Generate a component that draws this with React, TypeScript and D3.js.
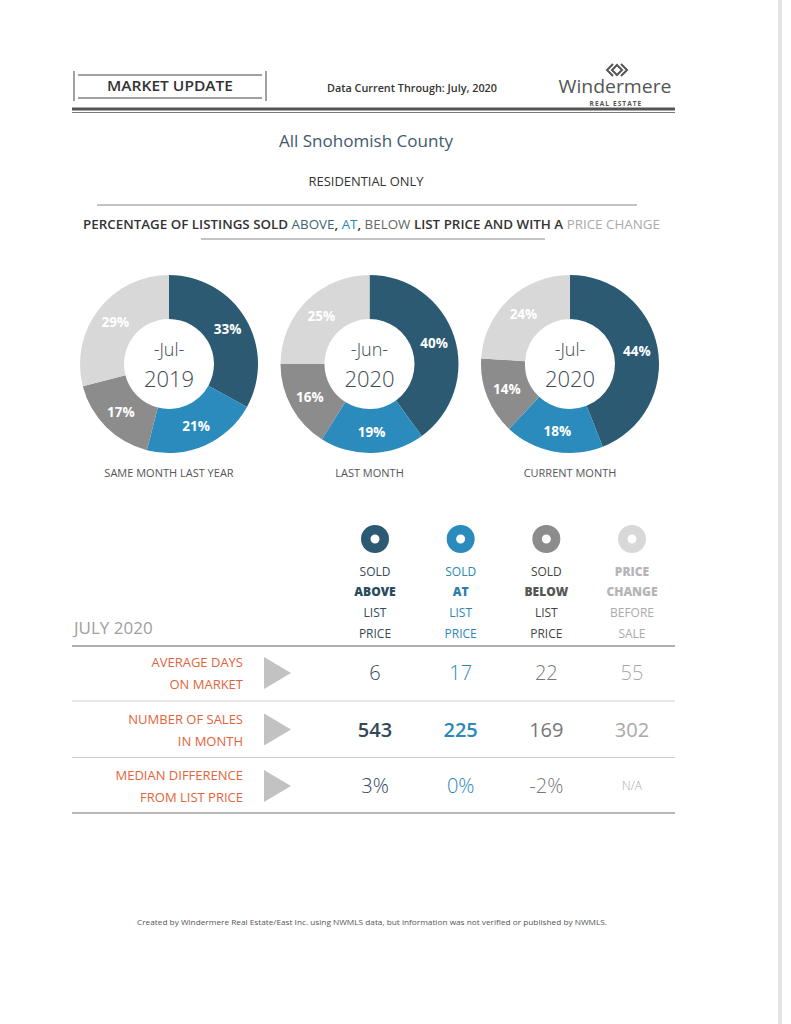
import React from "react";
import * as d3 from "d3";

// ---------- data ----------
const categories = ["Sold Above List Price", "Sold At List Price", "Sold Below List Price", "Price Change Before Sale"];
const donutMonths = ["-Jul-", "-Jun-", "-Jul-"];
const donutYears = ["2019", "2020", "2020"];
const donutCaptions = ["SAME MONTH LAST YEAR", "LAST MONTH", "CURRENT MONTH"];
const pctSameMonthLastYear = [33, 21, 17, 29];
const pctLastMonth = [40, 19, 16, 25];
const pctCurrentMonth = [44, 18, 14, 24];
const columnHeaders = [
  ["SOLD", "ABOVE", "LIST", "PRICE"],
  ["SOLD", "AT", "LIST", "PRICE"],
  ["SOLD", "BELOW", "LIST", "PRICE"],
  ["PRICE", "CHANGE", "BEFORE", "SALE"],
];
const rowLabels = [
  ["AVERAGE DAYS", "ON MARKET"],
  ["NUMBER OF SALES", "IN MONTH"],
  ["MEDIAN DIFFERENCE", "FROM LIST PRICE"],
];
const avgDaysOnMarket = [6, 17, 22, 55];
const numberOfSales = [543, 225, 169, 302];
const medianDifference = ["3%", "0%", "-2%", "N/A"];

// ---------- styles ----------
const FONT = "'Open Sans', 'DejaVu Sans', sans-serif";
const sliceColors = ["#2c5a72", "#2b8bbd", "#8c8c8c", "#d8d8d8"];
const valueColors = ["#34495a", "#2c88b6", "#777777", "#a9a9a9"];
const orange = "#e2643c";

const donutSets = [pctSameMonthLastYear, pctLastMonth, pctCurrentMonth];

export default function App() {
  const W = 791, H = 1024;

  // donut layout
  const donutX = d3.scalePoint<number>().domain([0, 1, 2]).range([169, 570]);
  const cy = 364;
  const outerR = 89, innerR = 45;
  const pie = d3.pie<number>().sort(null).value((d) => d);
  const arc = d3.arc<d3.PieArcDatum<number>>().innerRadius(innerR).outerRadius(outerR);
  const labelArc = d3.arc<d3.PieArcDatum<number>>().innerRadius(68).outerRadius(68);

  // table layout
  const colX = d3.scalePoint<number>().domain([0, 1, 2, 3]).range([375, 632]);
  const rowY = d3.scalePoint<number>().domain([0, 1, 2]).range([673, 786]);
  const iconArc = d3.arc<d3.PieArcDatum<number>>().innerRadius(4.5).outerRadius(14);
  const iconPie = d3.pie<number>().sort(null)([1])[0];

  const rowValues: (string | number)[][] = [avgDaysOnMarket, numberOfSales, medianDifference];

  const headerColors = [
    ["#34495a", "#2a4b5e", "#34495a", "#34495a"],
    ["#2c88b6", "#2a7eaa", "#2c88b6", "#2c88b6"],
    ["#444", "#555", "#444", "#444"],
    ["#b5b5b5", "#b5b5b5", "#aaa", "#aaa"],
  ];
  const headerBold = [
    [false, true, false, false],
    [false, true, false, false],
    [false, true, false, false],
    [true, true, false, false],
  ];
  const headerY = [576, 596, 617, 638];
  const salesWeight = [600, 600, 400, 400];

  return (
    <svg width={W} height={H} style={{ position: "absolute", left: 0, top: 0, background: "#fff" }} fontFamily={FONT}>
      <rect x={0} y={0} width={W} height={H} fill="#fff" />
      {/* scan edge */}
      <rect x={778} y={0} width={4} height={H} fill="#e4e4e4" />

      {/* header box */}
      <g stroke="#444" strokeWidth={1}>
        <line x1={74} y1={71} x2={74} y2={101} />
        <line x1={266} y1={71} x2={266} y2={101} />
        <line x1={78} y1={75} x2={262} y2={75} />
        <line x1={78} y1={98} x2={262} y2={98} />
      </g>
      <text x={170} y={91} textAnchor="middle" fontSize={14.5} fontWeight={600} fill="#333" textLength={126} lengthAdjust="spacingAndGlyphs">MARKET UPDATE</text>
      <text x={327} y={92} fontSize={10.5} fontWeight={600} fill="#333" textLength={170} lengthAdjust="spacingAndGlyphs">Data Current Through:  July, 2020</text>

      {/* logo */}
      <g fill="none" stroke="#555" strokeWidth={2}>
        <path d="M613,64 L607,70 L613,76" />
        <path d="M621,64 L627,70 L621,76" />
        <path d="M617,65 L622,70 L617,75 L612,70 Z" />
      </g>
      <text x={615} y={92.5} textAnchor="middle" fontSize={19} fontWeight={400} fill="#555" textLength={113} lengthAdjust="spacingAndGlyphs">Windermere</text>
      <text x={616} y={105.5} textAnchor="middle" fontSize={6.5} fontWeight={700} fill="#555" letterSpacing={1.1}>REAL ESTATE</text>

      {/* double rule */}
      <rect x={72} y={107.5} width={603} height={3} fill="#555" />
      <rect x={72} y={112} width={603} height={1} fill="#777" />

      {/* titles */}
      <text x={366} y={147} textAnchor="middle" fontSize={16.5} fill="#3e5a6b" textLength={174} lengthAdjust="spacingAndGlyphs">All Snohomish County</text>
      <text x={366} y={186} textAnchor="middle" fontSize={12} fill="#333" textLength={115} lengthAdjust="spacingAndGlyphs">RESIDENTIAL ONLY</text>
      <line x1={97} y1={205} x2={637} y2={205} stroke="#888" strokeWidth={1} />
      <text x={83} y={229} fontSize={12} fontWeight={600} fill="#333" textLength={577} lengthAdjust="spacingAndGlyphs">
        PERCENTAGE OF LISTINGS SOLD <tspan fill="#3b6478" fontWeight={400}>ABOVE</tspan>, <tspan fill="#2b8bbd" fontWeight={400}>AT</tspan>, <tspan fill="#666" fontWeight={400}>BELOW</tspan> LIST PRICE AND WITH A <tspan fill="#aaa" fontWeight={400}>PRICE CHANGE</tspan>
      </text>
      <line x1={201} y1={239} x2={545} y2={239} stroke="#888" strokeWidth={1} />

      {/* donuts */}
      {donutSets.map((vals, i) => {
        const cx = donutX(i)!;
        const arcs = pie(vals);
        return (
          <g key={i}>
            <g transform={`translate(${cx},${cy})`}>
              {arcs.map((a, j) => (
                <path key={j} d={arc(a)!} fill={sliceColors[j]} />
              ))}
              {arcs.map((a, j) => {
                const [lx, ly] = labelArc.centroid(a);
                return (
                  <text key={"l" + j} x={lx} y={ly} dy="0.36em" textAnchor="middle" fontSize={13.5} fontWeight={700} fill="#fff">
                    {vals[j]}%
                  </text>
                );
              })}
              <text x={0} y={-8} textAnchor="middle" fontSize={18} fontWeight={300} fill="#3c4a52">{donutMonths[i]}</text>
              <text x={0} y={23} textAnchor="middle" fontSize={22} fontWeight={300} fill="#3c4a52">{donutYears[i]}</text>
            </g>
            <text x={cx} y={477} textAnchor="middle" fontSize={11} fill="#555">{donutCaptions[i]}</text>
          </g>
        );
      })}

      {/* table header */}
      <text x={74} y={634} fontSize={17} fill="#a0a0a0">JULY 2020</text>
      {categories.map((c, j) => {
        const x = colX(j)!;
        return (
          <g key={c}>
            <path transform={`translate(${x},539)`} d={iconArc(iconPie)!} fill={sliceColors[j]} />
            {columnHeaders[j].map((t, k) => (
              <text key={k} x={x} y={headerY[k]} textAnchor="middle" fontSize={12} fontWeight={headerBold[j][k] ? 800 : 400} fill={headerColors[j][k]}>{t}</text>
            ))}
          </g>
        );
      })}
      <rect x={72} y={645} width={603} height={2} fill="#b0b0b0" />

      {/* rows */}
      {rowLabels.map((lbl, r) => {
        const y = rowY(r)!;
        return (
          <g key={r}>
            <text x={243} y={y - 6} textAnchor="end" fontSize={13} fill={orange}>{lbl[0]}</text>
            <text x={243} y={y + 16} textAnchor="end" fontSize={13} fill={orange}>{lbl[1]}</text>
            <path d={`M264,${y - 16} L291,${y} L264,${y + 16} Z`} fill="#c2c2c2" />
            {rowValues[r].map((v, j) => {
              const isNA = v === "N/A";
              return (
                <text key={j} x={colX(j)!} y={y} dy="0.36em" textAnchor="middle" fontSize={isNA ? 12 : 20} fontWeight={r === 1 ? salesWeight[j] : 300} fill={valueColors[j]}>
                  {v}
                </text>
              );
            })}
            {r < 2 && <line x1={72} x2={675} y1={y + 28} y2={y + 28} stroke="#cfcfcf" strokeWidth={1} />}
          </g>
        );
      })}
      <rect x={72} y={812} width={603} height={2} fill="#b8b8b8" />

      {/* footer */}
      <text x={372} y={925} textAnchor="middle" fontSize={8} fill="#555" textLength={470} lengthAdjust="spacingAndGlyphs">
        Created by Windermere Real Estate/East Inc. using NWMLS data, but information was not verified or published by NWMLS.
      </text>
    </svg>
  );
}
